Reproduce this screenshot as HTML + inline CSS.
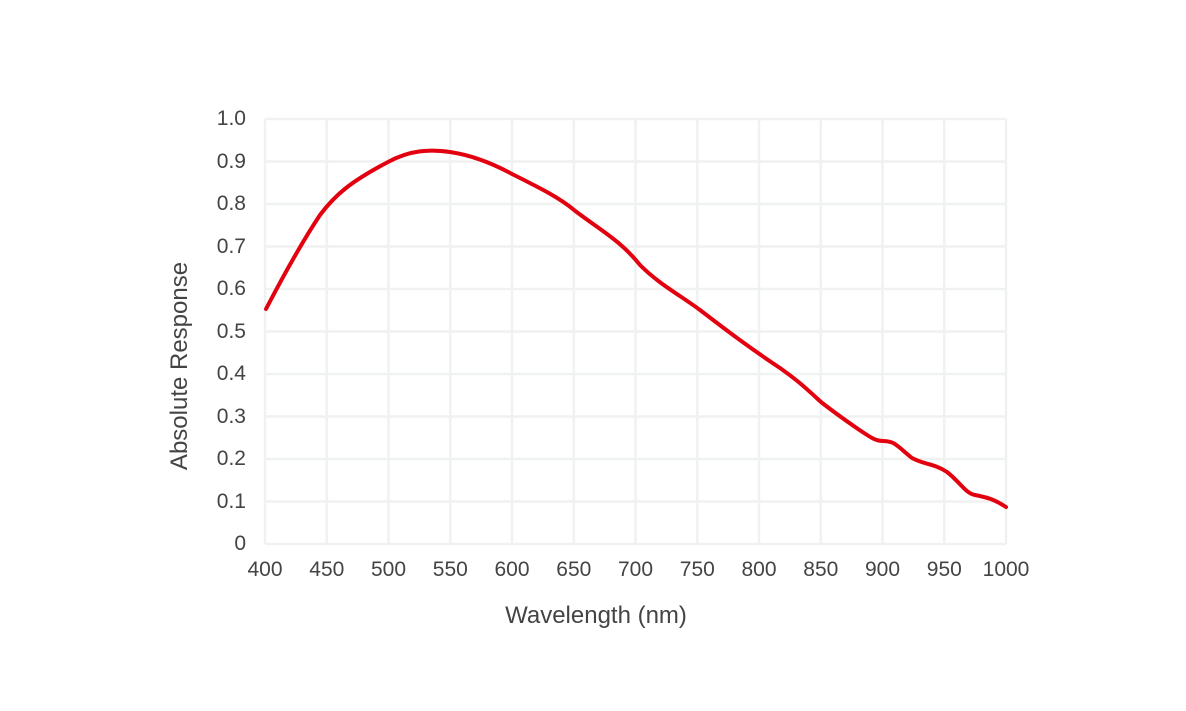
<!DOCTYPE html>
<html><head><style>
body{margin:0;background:#fff;}
text{font-family:"Liberation Sans",sans-serif;fill:#444;}
</style></head><body>
<svg width="1186" height="706" xmlns="http://www.w3.org/2000/svg">
<g stroke="#f0f1f1" stroke-width="2.5" fill="none">
<line x1="265" y1="119" x2="1006" y2="119"/><line x1="265" y1="161.5" x2="1006" y2="161.5"/>
<line x1="265" y1="204" x2="1006" y2="204"/><line x1="265" y1="246.5" x2="1006" y2="246.5"/>
<line x1="265" y1="289" x2="1006" y2="289"/><line x1="265" y1="331.5" x2="1006" y2="331.5"/>
<line x1="265" y1="374" x2="1006" y2="374"/><line x1="265" y1="416.5" x2="1006" y2="416.5"/>
<line x1="265" y1="459" x2="1006" y2="459"/><line x1="265" y1="501.5" x2="1006" y2="501.5"/>
<line x1="265" y1="544" x2="1006" y2="544"/>
<line x1="265" y1="119" x2="265" y2="544"/><line x1="326.8" y1="119" x2="326.8" y2="544"/>
<line x1="388.5" y1="119" x2="388.5" y2="544"/><line x1="450.3" y1="119" x2="450.3" y2="544"/>
<line x1="512" y1="119" x2="512" y2="544"/><line x1="573.8" y1="119" x2="573.8" y2="544"/>
<line x1="635.5" y1="119" x2="635.5" y2="544"/><line x1="697.3" y1="119" x2="697.3" y2="544"/>
<line x1="759" y1="119" x2="759" y2="544"/><line x1="820.8" y1="119" x2="820.8" y2="544"/>
<line x1="882.5" y1="119" x2="882.5" y2="544"/><line x1="944.3" y1="119" x2="944.3" y2="544"/>
<line x1="1006" y1="119" x2="1006" y2="544"/>
</g>
<path d="M266,309 C278,286 300,245 320,215 C335,195 350,182 388,162 C410,150 430,149 450,152 C470,155 490,162 512,174 C540,188 560,198 574,210 C600,230 620,240 640,265 C660,285 680,295 700,310 C730,333 750,348 780,368 C800,382 810,392 821,402 C835,413 845,420 858,429 C870,437 875,441 883,441 C895,441 897,446 912,458 C925,465 933,463 947,472 C960,482 965,493 975,495 C990,498 995,500 1006,507" fill="none" stroke="#e3000f" stroke-width="4" stroke-linecap="round"/>
<g font-size="21" text-anchor="end">
<text x="246" y="125">1.0</text><text x="246" y="168">0.9</text><text x="246" y="210">0.8</text>
<text x="246" y="253">0.7</text><text x="246" y="295">0.6</text><text x="246" y="338">0.5</text>
<text x="246" y="380">0.4</text><text x="246" y="423">0.3</text><text x="246" y="465">0.2</text>
<text x="246" y="508">0.1</text><text x="246" y="550">0</text>
</g>
<g font-size="21" text-anchor="middle">
<text x="265" y="576">400</text><text x="326.8" y="576">450</text><text x="388.5" y="576">500</text>
<text x="450.3" y="576">550</text><text x="512" y="576">600</text><text x="573.8" y="576">650</text>
<text x="635.5" y="576">700</text><text x="697.3" y="576">750</text><text x="759" y="576">800</text>
<text x="820.8" y="576">850</text><text x="882.5" y="576">900</text><text x="944.3" y="576">950</text>
<text x="1006" y="576">1000</text>
<text x="596" y="623" font-size="24">Wavelength (nm)</text>
<text x="0" y="0" font-size="24" transform="translate(187,366) rotate(-90)">Absolute Response</text>
</g>
</svg>
</body></html>
